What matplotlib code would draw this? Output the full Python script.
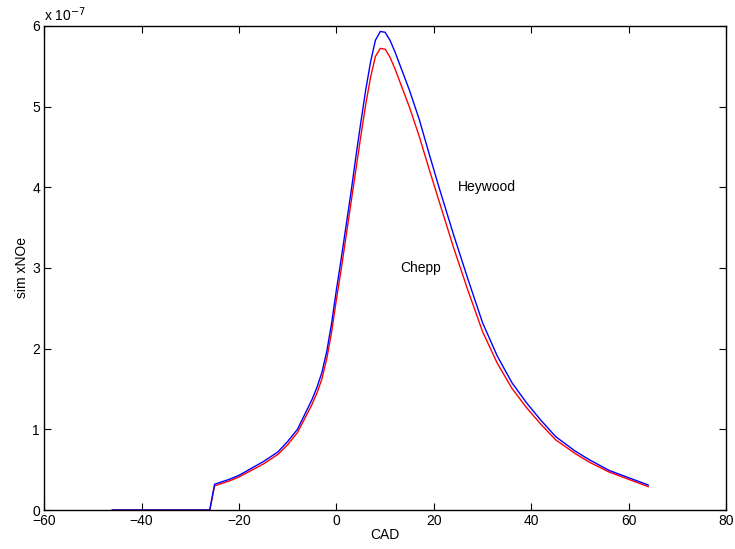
import matplotlib.pyplot as plt
from matplotlib.ticker import FuncFormatter

plt.rcParams['font.family'] = ['Liberation Sans', 'DejaVu Sans']

# crank angle (deg) and NO mass fraction, in units of 1e-7
cad = [-46, -26, -25, -22, -20, -15, -12, -10, -8, -6.7, -5, -4, -3, -2, -1, 0,
       1, 2, 3, 4, 5, 6, 7, 8, 9, 10, 11, 12, 13, 14, 15, 17, 19, 21, 24, 27,
       30, 33, 36, 39, 42, 45, 49, 52, 56, 60, 64]
heywood = [0, 0, 0.32, 0.38, 0.43, 0.60, 0.72, 0.85, 1.00, 1.16, 1.37, 1.52,
           1.70, 1.96, 2.31, 2.73, 3.12, 3.53, 3.94, 4.38, 4.80, 5.20, 5.55,
           5.82, 5.93, 5.92, 5.82, 5.68, 5.52, 5.36, 5.20, 4.84, 4.42, 4.01,
           3.42, 2.86, 2.32, 1.91, 1.58, 1.33, 1.11, 0.91, 0.73, 0.62, 0.49,
           0.40, 0.31]
chepp = [0, 0, 0.30, 0.36, 0.41, 0.57, 0.69, 0.81, 0.96, 1.11, 1.31, 1.45,
         1.62, 1.87, 2.20, 2.61, 2.99, 3.40, 3.81, 4.22, 4.63, 5.02, 5.36,
         5.62, 5.72, 5.71, 5.61, 5.47, 5.31, 5.15, 4.99, 4.63, 4.23, 3.84,
         3.26, 2.72, 2.21, 1.82, 1.51, 1.27, 1.06, 0.87, 0.70, 0.59, 0.47,
         0.38, 0.29]
scale = 1e-7

fig = plt.figure(figsize=(7.35, 5.49), dpi=100)
ax = fig.add_axes([0.06, 0.071, 0.928, 0.882])

ax.plot(cad, [v * scale for v in chepp], color='red', lw=1.0)
ax.plot(cad, [v * scale for v in heywood], color='blue', lw=1.0)

ax.text(25, 4.0 * scale, 'Heywood', fontsize=10, va='center', ha='left')
ax.text(13, 3.0 * scale, 'Chepp', fontsize=10, va='center', ha='left')

ax.set_xlim(-60, 80)
ax.set_ylim(0, 6 * scale)
ax.set_xticks(range(-60, 81, 20))
ax.set_yticks([i * scale for i in range(7)])
ax.yaxis.set_major_formatter(FuncFormatter(lambda v, p: "%g" % round(v / scale, 6)))
ax.tick_params(direction='in', top=True, right=True, length=4.8, width=0.8,
               labelsize=10, pad=3)
for s in ax.spines.values():
    s.set_linewidth(1.0)

ax.text(0.0, 1.004, 'x 10$^{-7}$', transform=ax.transAxes, fontsize=10,
        ha='left', va='bottom')
ax.set_xlabel('CAD', fontsize=10, labelpad=0)
ax.set_ylabel('sim xNOe', fontsize=10, labelpad=2)

fig.savefig('out.png', dpi=100)
